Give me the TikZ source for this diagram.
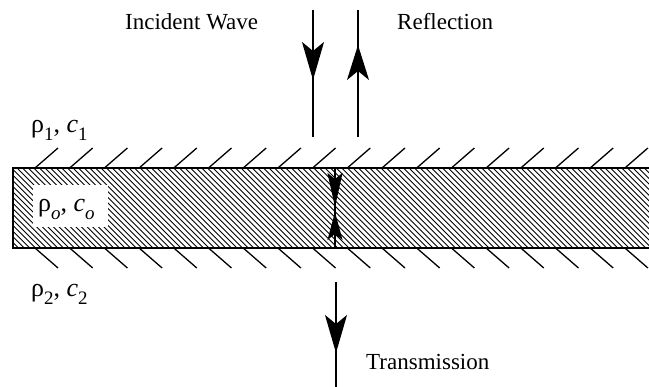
\documentclass[tikz,border=0pt]{standalone}
\usepackage{fontspec}
\setmainfont{Liberation Serif}
\usetikzlibrary{arrows.meta}
\newcommand\lowsub[1]{\raisebox{-0.3em}{\fontsize{19}{22}\selectfont #1}}
\begin{document}
\begin{tikzpicture}[x=1pt,y=-1pt,
  lbl/.style={font=\fontsize{23}{27}\selectfont, inner sep=0pt},
  glbl/.style={font=\fontsize{26}{30}\selectfont, inner sep=0pt},
  wave/.style={line width=1.5pt},
  head/.style={-{Stealth[length=#1,width=22pt,inset=9pt]}},
  tick/.style={line width=1.3pt},
  hatch/.style={line width=0.9pt},
  slabedge/.style={line width=1.8pt}]
\useasboundingbox (0,0) rectangle (649,387);
% hatching
\begin{scope}
\clip (13,168) rectangle (649,248);
\foreach \i in {0,...,130} {\draw[hatch] ({-67+\i*5.6},168) -- ({13+\i*5.6},248);}
\end{scope}
% slab edges
\draw[slabedge] (649,168) -- (13,168) -- (13,248) -- (649,248);
% ticks
\foreach \k in {0,...,17} {
  \draw[tick] ({35+\k*34.7},168) -- ({58+\k*34.7},148);
  \draw[tick] ({35+\k*34.7},248) -- ({58+\k*34.7},268);
}
% labels
\node[lbl, anchor=base west] (incl) at (125,30) {Incident Wave};
\node[lbl, anchor=base west] (refl) at (397,30) {Reflection};
\node[lbl, anchor=base west] (trl) at (366,370) {Transmission};
\node[glbl, anchor=base west] (m1) at (31,133) {ρ\lowsub{1}, \textit{c}\lowsub{1}};
\node[glbl, anchor=base west] (m2) at (31,297) {ρ\lowsub{2}, \textit{c}\lowsub{2}};
\node[fill=white, inner sep=0pt, minimum width=75pt, minimum height=42pt] (m0box) at (70.5,206) {};
\node[glbl, anchor=base west] (m0) at (38,212) {ρ\lowsub{\textit{o}}, \textit{c}\lowsub{\textit{o}}};
% coordinates
\coordinate (inA) at (313,10);
\coordinate (inT) at (313,80);
\coordinate (inB) at (313,137);
\coordinate (reA) at (358,137);
\coordinate (reT) at (358,45);
\coordinate (reB) at (358,10);
\coordinate (slT) at (335,168);
\coordinate (slM1) at (335,207);
\coordinate (slM2) at (335,212);
\coordinate (slB) at (335,248);
\coordinate (trA) at (336,282);
\coordinate (trT) at (336,353);
\coordinate (trB) at (336,387);
% arrows
\draw[wave] (inA) -- (inB);
\draw[wave, head=38pt] (inA) -- (inT);
\draw[wave] (reA) -- (reB);
\draw[wave, head=35pt] (reA) -- (reT);
\draw[wave] (slT) -- (slB);
\draw[wave, -{Stealth[length=34pt,width=15pt,inset=6pt]}] (slT) -- (slM1);
\draw[wave, -{Stealth[length=28pt,width=15pt,inset=6pt]}] (slB) -- (slM2);
\draw[wave] (trA) -- (trB);
\draw[wave, head=38pt] (trA) -- (trT);
\end{tikzpicture}
\end{document}
